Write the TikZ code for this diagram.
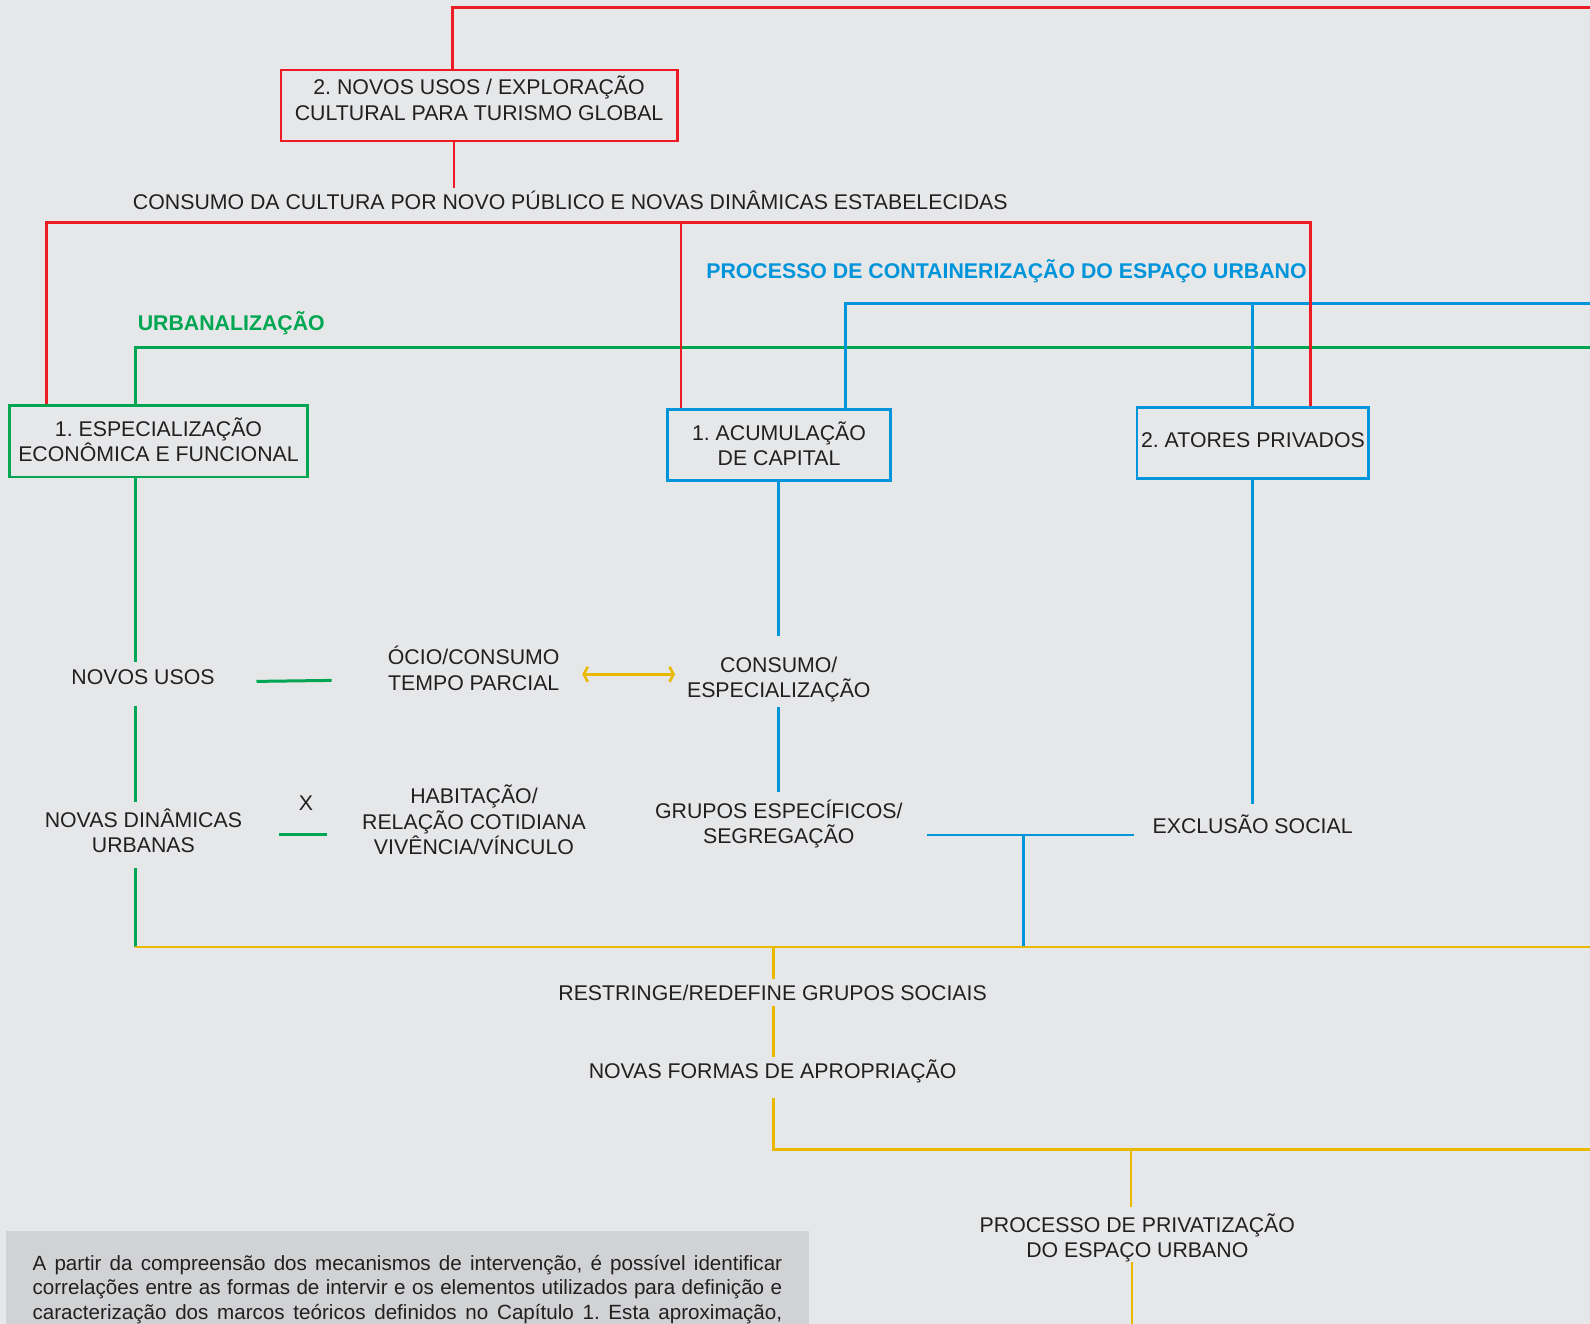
\documentclass[tikz,border=0pt]{standalone}
\usepackage{fontspec}
\setmainfont{Liberation Sans}
\usetikzlibrary{arrows.meta}
\definecolor{bgc}{HTML}{E6E7E8}
\definecolor{boxgray}{HTML}{D1D2D4}
\definecolor{cred}{HTML}{ED1C24}
\definecolor{cgreen}{HTML}{00A651}
\definecolor{cblue}{HTML}{0095DA}
\definecolor{cyel}{HTML}{E9B800}
\definecolor{ink}{HTML}{231F20}
\frenchspacing
\newcommand{\fullline}[1]{\noindent\hbox to 749.6pt{#1}\par}
\begin{document}
\begin{tikzpicture}[x=1pt,y=-1pt,
  lbl/.style={font=\fontsize{21.3}{25.5}\selectfont, text=ink, inner sep=0pt, align=center, anchor=base},
  hdr/.style={font=\fontsize{21.3}{25.5}\selectfont\bfseries, inner sep=0pt, anchor=base},
  boxn/.style={draw, line width=2.6pt, inner sep=0pt, align=center, font=\fontsize{21.3}{25.5}\selectfont, text=ink},
  ln/.style={line width=2.6pt},
  lnthick/.style={line width=3pt},
  barb/.style={{Straight Barb[length=4pt,width=15pt]}-{Straight Barb[length=4pt,width=15pt]}}
]
\fill[bgc] (0,0) rectangle (1590,1324);
\useasboundingbox (0,0) rectangle (1590,1324);
\fill[boxgray] (6,1231) rectangle (808.6,1330);

% boxes
\node[boxn, draw=cred, minimum width=396.5pt, minimum height=71pt, text height=40.8pt, text depth=11.6pt] (bNovos) at (479.1,105.7) {2. NOVOS USOS / EXPLORAÇÃO\\CULTURAL PARA TURISMO GLOBAL};
\node[boxn, draw=cgreen, minimum width=298.5pt, minimum height=71.5pt, text height=41.2pt, text depth=0pt] (bEsp) at (158.5,441.3) {1. ESPECIALIZAÇÃO\\ECONÔMICA E FUNCIONAL};
\node[boxn, draw=cblue, minimum width=223pt, minimum height=71.5pt, text height=41.8pt, text depth=0pt] (bAcum) at (779,445) {1. ACUMULAÇÃO\\DE CAPITAL};
\node[boxn, draw=cblue, minimum width=231.5pt, minimum height=71pt, text height=15.3pt, text depth=6.1pt] (bAtor) at (1252.9,443) {2. ATORES PRIVADOS};

% labels
\node[lbl] (tCons) at (570.3,209.3) {CONSUMO DA CULTURA POR NOVO PÚBLICO E NOVAS DINÂMICAS ESTABELECIDAS};
\node[hdr, text=cblue] (tCont) at (1006.5,278.3) {PROCESSO DE CONTAINERIZAÇÃO DO ESPAÇO URBANO};
\node[hdr, text=cgreen] (tUrb) at (231.3,330.9) {URBANALIZAÇÃO};
\node[lbl] (tNU) at (143,684.3) {NOVOS USOS};
\node[lbl] (tOcio) at (473.7,690.3) {ÓCIO/CONSUMO\\TEMPO PARCIAL};
\node[lbl] (tCE) at (778.8,697.6) {CONSUMO/\\ESPECIALIZAÇÃO};
\node[lbl] (tGr) at (778.8,843.6) {GRUPOS ESPECÍFICOS/\\SEGREGAÇÃO};
\node[lbl] (tND) at (143.4,852.6) {NOVAS DINÂMICAS\\URBANAS};
\node[lbl] (tX) at (306,810.9) {X};
\node[lbl] (tHab) at (474,854.9) {HABITAÇÃO/\\RELAÇÃO COTIDIANA\\VIVÊNCIA/VÍNCULO};
\node[lbl] (tEx) at (1252.6,833.6) {EXCLUSÃO SOCIAL};
\node[lbl] (tRe) at (772.6,1000.3) {RESTRINGE/REDEFINE GRUPOS SOCIAIS};
\node[lbl] (tNF) at (772.6,1078.3) {NOVAS FORMAS DE APROPRIAÇÃO};
\node[lbl] (tPr) at (1137.3,1257.6) {PROCESSO DE PRIVATIZAÇÃO\\DO ESPAÇO URBANO};
\node[inner sep=0pt, text width=749.6pt, anchor=base west, font=\fontsize{20.6}{24.3}\selectfont, text=ink] (tPar) at (32.4,1270.5)
 {\spaceskip=0.26em plus 1em minus 0.08em\relax
  \fullline{A partir da compreensão dos mecanismos de intervenção, é possível identificar}%
  \fullline{correlações entre as formas de intervir e os elementos utilizados para definição e}%
  \fullline{caracterização dos marcos teóricos definidos no Capítulo 1. Esta aproximação,}};

% coordinates
\coordinate (gL) at (135.7,347.3);
\coordinate (gR) at (1595,347.3);
\coordinate (g1) at (135.7,662);
\coordinate (g2a) at (256.5,681.4);
\coordinate (g2b) at (331.6,680.4);
\coordinate (g3a) at (135.7,706);
\coordinate (g3b) at (135.7,801.7);
\coordinate (g4a) at (279,834);
\coordinate (g4b) at (326.5,834);
\coordinate (g5) at (135.7,868);
\coordinate (bL) at (845.3,303.3);
\coordinate (bM) at (1252.4,303.3);
\coordinate (bR) at (1595,303.3);
\coordinate (b1) at (778.6,635.7);
\coordinate (b2a) at (778.6,707.3);
\coordinate (b2b) at (778.6,791.7);
\coordinate (b3) at (1252.4,804.3);
\coordinate (b4a) at (927,835);
\coordinate (b4b) at (1133.5,835);
\coordinate (b5) at (1023.2,835);
\coordinate (ya) at (582.3,674.3);
\coordinate (yb) at (675,674.3);
\coordinate (yL) at (134.5,947);
\coordinate (yR) at (1595,947);
\coordinate (y2a) at (773.5,947);
\coordinate (y2b) at (773.5,978.7);
\coordinate (y3a) at (773.5,1006);
\coordinate (y3b) at (773.5,1057.3);
\coordinate (y4a) at (773.5,1098.3);
\coordinate (y4c) at (773.5,1149.3);
\coordinate (y4r) at (1595,1149.3);
\coordinate (y5a) at (1131,1149.3);
\coordinate (y5b) at (1131,1206.7);
\coordinate (y6a) at (1132,1261.7);
\coordinate (y6b) at (1132,1330);
\coordinate (rTop) at (452.5,7.5);
\coordinate (rTopEnd) at (1595,7.5);
\coordinate (rDrop) at (454,188);
\coordinate (rL) at (46.4,222.3);
\coordinate (rM) at (681,222.3);
\coordinate (rR) at (1310.3,222.3);

% green
\draw[ln,cgreen] (bEsp.north -| gL) -- (gL) -- (gR);
\draw[ln,cgreen] (bEsp.south -| gL) -- (g1);
\draw[lnthick,cgreen] (g2a) -- (g2b);
\draw[ln,cgreen] (g3a) -- (g3b);
\draw[lnthick,cgreen] (g4a) -- (g4b);
\draw[ln,cgreen] (g5) -- (yL -| g5);
% blue
\draw[ln,cblue] (bAcum.north -| bL) -- (bL) -- (bR);
\draw[ln,cblue] (bM) -- (bAtor.north -| bM);
\draw[ln,cblue] (bAcum.south -| b1) -- (b1);
\draw[ln,cblue] (b2a) -- (b2b);
\draw[ln,cblue] (bAtor.south -| b3) -- (b3);
\draw[ln,cblue] (b4a) -- (b4b);
\draw[ln,cblue] (b5) -- (yL -| b5);
% yellow
\draw[ln,cyel,barb] (ya) -- (yb);
\draw[ln,cyel] (yL) -- (yR);
\draw[ln,cyel] (y2a) -- (y2b);
\draw[ln,cyel] (y3a) -- (y3b);
\draw[ln,cyel] (y4a) -- (y4c) -- (y4r);
\draw[ln,cyel] (y5a) -- (y5b);
\draw[ln,cyel] (y6a) -- (y6b);
% red
\draw[ln,cred] (bNovos.north -| rTop) -- (rTop) -- (rTopEnd);
\draw[ln,cred] (bNovos.south -| rDrop) -- (rDrop);
\draw[ln,cred] (bEsp.north -| rL) -- (rL) -- (rR) -- (bAtor.north -| rR);
\draw[ln,cred] (rM) -- (bAcum.north -| rM);
\end{tikzpicture}
\end{document}
